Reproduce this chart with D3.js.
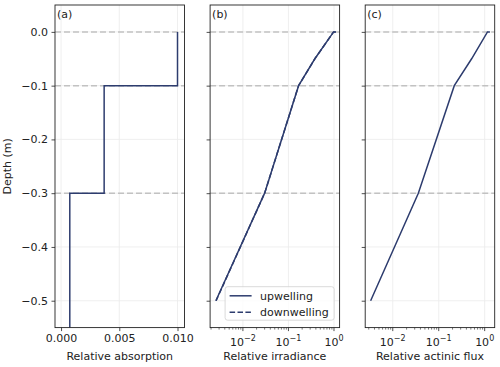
<!DOCTYPE html>
<html>
<head>
<meta charset="utf-8">
<script src="https://cdn.jsdelivr.net/npm/d3@7"></script>
<style>
  body { margin: 0; background: #fff; }
  text { font-family: "DejaVu Sans", sans-serif; fill: #222; }
</style>
</head>
<body>
<div id="container"></div>
<script>
// layer data for (a)
const layerTop = [0, -0.1, -0.3];
const layerBottom = [-0.1, -0.3, -0.6];
const absorption = [0.0100, 0.0037, 0.00075];

// profiles for (b) and (c)
const depthB = [0, 0, -0.05, -0.1, -0.3, -0.5];
const upwelling = [1.1, 0.98, 0.38, 0.167, 0.030, 0.00255];
const downwelling = [1.1, 0.98, 0.38, 0.167, 0.030, 0.00258];
const depthC = [0, 0, -0.05, -0.1, -0.3, -0.5];
const actinic = [1.3, 1.15, 0.52, 0.218, 0.036, 0.0033];

const layerLines = [0, -0.1, -0.3];
const depthTicks = [0, -0.1, -0.2, -0.3, -0.4, -0.5];
const absTicks = [0, 0.005, 0.010];
const logTicks = [0.01, 0.1, 1];
const logLabels = ["-2", "-1", "0"];

const width = 500, height = 367;
const plotTop = 5, plotBottom = 327.6;
const panelW = 129.5, gap = 25.6, left0 = 55;
const linecolor = "#2d3c6e";
const gridcolor = "#ebebeb";
const dashcolor = "#c2c2c2";

const svg = d3.select("#container").append("svg")
  .attr("width", width).attr("height", height);

const y = d3.scaleLinear().domain([-0.55, 0.05]).range([plotBottom, plotTop]);

const panels = [
  { label: "(a)", xlabel: "Relative absorption",
    x: d3.scaleLinear().domain([-0.00052, 0.0106]) },
  { label: "(b)", xlabel: "Relative irradiance",
    x: d3.scaleLog().domain([Math.pow(10, -2.72), Math.pow(10, 0.123)]) },
  { label: "(c)", xlabel: "Relative actinic flux",
    x: d3.scaleLog().domain([Math.pow(10, -2.60), Math.pow(10, 0.218)]) }
];

panels.forEach((p, i) => {
  const x0 = left0 + i * (panelW + gap);
  p.x.range([x0, x0 + panelW]);
  const g = svg.append("g");
  const x = p.x;

  g.append("clipPath").attr("id", "clip" + i).append("rect")
    .attr("x", x0).attr("y", plotTop).attr("width", panelW).attr("height", plotBottom - plotTop);

  // grid
  const xt = i === 0 ? absTicks : logTicks;
  g.selectAll(".vgrid").data(xt).enter().append("line")
    .attr("x1", d => x(d)).attr("x2", d => x(d))
    .attr("y1", plotTop).attr("y2", plotBottom)
    .attr("stroke", gridcolor).attr("stroke-width", 0.8);
  g.selectAll(".hgrid").data(depthTicks).enter().append("line")
    .attr("x1", x0).attr("x2", x0 + panelW)
    .attr("y1", d => y(d)).attr("y2", d => y(d))
    .attr("stroke", gridcolor).attr("stroke-width", 0.8);

  // layer boundaries
  g.selectAll(".layer").data(layerLines).enter().append("line")
    .attr("x1", x0).attr("x2", x0 + panelW)
    .attr("y1", d => y(d)).attr("y2", d => y(d))
    .attr("stroke", dashcolor).attr("stroke-width", 1.5)
    .attr("stroke-dasharray", "6,3");

  // axes
  const yAxis = d3.axisLeft(y).tickValues(depthTicks).tickSize(3.5).tickPadding(3.5);
  const ga = g.append("g").attr("transform", `translate(${x0},0)`).call(yAxis);
  ga.select(".domain").remove();
  ga.selectAll("text").style("font-size", "11px").attr("fill", "#222")
    .text(d => i === 0 ? d3.format(".1f")(d).replace("-", "\u2212") : "");

  if (i === 0) {
    const xAxis = d3.axisBottom(x).tickValues(absTicks).tickSize(3.5).tickPadding(3.5)
      .tickFormat(d3.format(".3f"));
    const gx = g.append("g").attr("transform", `translate(0,${plotBottom})`).call(xAxis);
    gx.select(".domain").remove();
    gx.selectAll("text").style("font-size", "11px").attr("fill", "#222");
  } else {
    const [lo, hi] = x.domain();
    const minor = [];
    for (let e = -3; e <= 0; e++) {
      for (let k = 2; k <= 9; k++) {
        const v = k * Math.pow(10, e);
        if (v > lo && v < hi) minor.push(v);
      }
    }
    g.selectAll(".minor").data(minor).enter().append("line")
      .attr("x1", d => x(d)).attr("x2", d => x(d))
      .attr("y1", plotBottom).attr("y2", plotBottom + 2)
      .attr("stroke", "#222").attr("stroke-width", 0.6);
    g.selectAll(".major").data(logTicks).enter().append("line")
      .attr("x1", d => x(d)).attr("x2", d => x(d))
      .attr("y1", plotBottom).attr("y2", plotBottom + 3.5)
      .attr("stroke", "#222").attr("stroke-width", 0.8);
    const lab = g.selectAll(".xlab").data(logTicks).enter().append("text")
      .attr("x", d => x(d)).attr("y", plotBottom + 18.5)
      .attr("text-anchor", "middle").style("font-size", "11px");
    lab.append("tspan").text("10");
    lab.append("tspan").attr("dy", -5).style("font-size", "8px")
      .text((d, j) => logLabels[j].replace("-", "\u2212"));
  }
  g.selectAll(".tick line").attr("stroke", "#222").attr("stroke-width", 0.8);

  // data
  const clip = g.append("g").attr("clip-path", `url(#clip${i})`);
  const line = d3.line().x(d => x(d[0])).y(d => y(d[1]));
  if (i === 0) {
    const pts = [];
    absorption.forEach((a, j) => { pts.push([a, layerTop[j]]); pts.push([a, layerBottom[j]]); });
    clip.append("path").attr("d", line(pts))
      .attr("fill", "none").attr("stroke", linecolor).attr("stroke-width", 1.5);
  } else if (i === 1) {
    clip.append("path").attr("d", line(upwelling.map((v, j) => [v, depthB[j]])))
      .attr("fill", "none").attr("stroke", linecolor).attr("stroke-width", 1.5);
    clip.append("path").attr("d", line(downwelling.map((v, j) => [v, depthB[j]])))
      .attr("fill", "none").attr("stroke", linecolor).attr("stroke-width", 1.5)
      .attr("stroke-dasharray", "5.5,2.4");
  } else {
    clip.append("path").attr("d", line(actinic.map((v, j) => [v, depthC[j]])))
      .attr("fill", "none").attr("stroke", linecolor).attr("stroke-width", 1.5);
  }

  // frame
  g.append("rect").attr("x", x0).attr("y", plotTop).attr("width", panelW).attr("height", plotBottom - plotTop)
    .attr("fill", "none").attr("stroke", "#222").attr("stroke-width", 0.9);

  g.append("text").attr("x", x0 + 2).attr("y", plotTop + 12.5)
    .style("font-size", "11px").text(p.label);
  g.append("text").attr("x", x0 + panelW / 2).attr("y", 360)
    .attr("text-anchor", "middle").style("font-size", "11px").text(p.xlabel);

  if (i === 1) {
    const lg = g.append("g");
    lg.append("rect").attr("x", x0 + 15).attr("y", 286.7).attr("width", 109).attr("height", 33.5)
      .attr("rx", 2.5).attr("fill", "#fff").attr("fill-opacity", 0.8)
      .attr("stroke", "#d0d0d0").attr("stroke-width", 0.8);
    const items = [["upwelling", null], ["downwelling", "5.5,2.4"]];
    items.forEach((it, j) => {
      const ly = 295.8 + j * 16.5;
      lg.append("line").attr("x1", x0 + 19.5).attr("x2", x0 + 41.5)
        .attr("y1", ly).attr("y2", ly)
        .attr("stroke", linecolor).attr("stroke-width", 1.5)
        .attr("stroke-dasharray", it[1]);
      lg.append("text").attr("x", x0 + 50).attr("y", ly + 4)
        .style("font-size", "11px").text(it[0]);
    });
  }
});

svg.append("text")
  .attr("transform", `translate(11,${(plotTop + plotBottom) / 2}) rotate(-90)`)
  .attr("text-anchor", "middle").style("font-size", "11px").text("Depth (m)");
</script>
</body>
</html>
